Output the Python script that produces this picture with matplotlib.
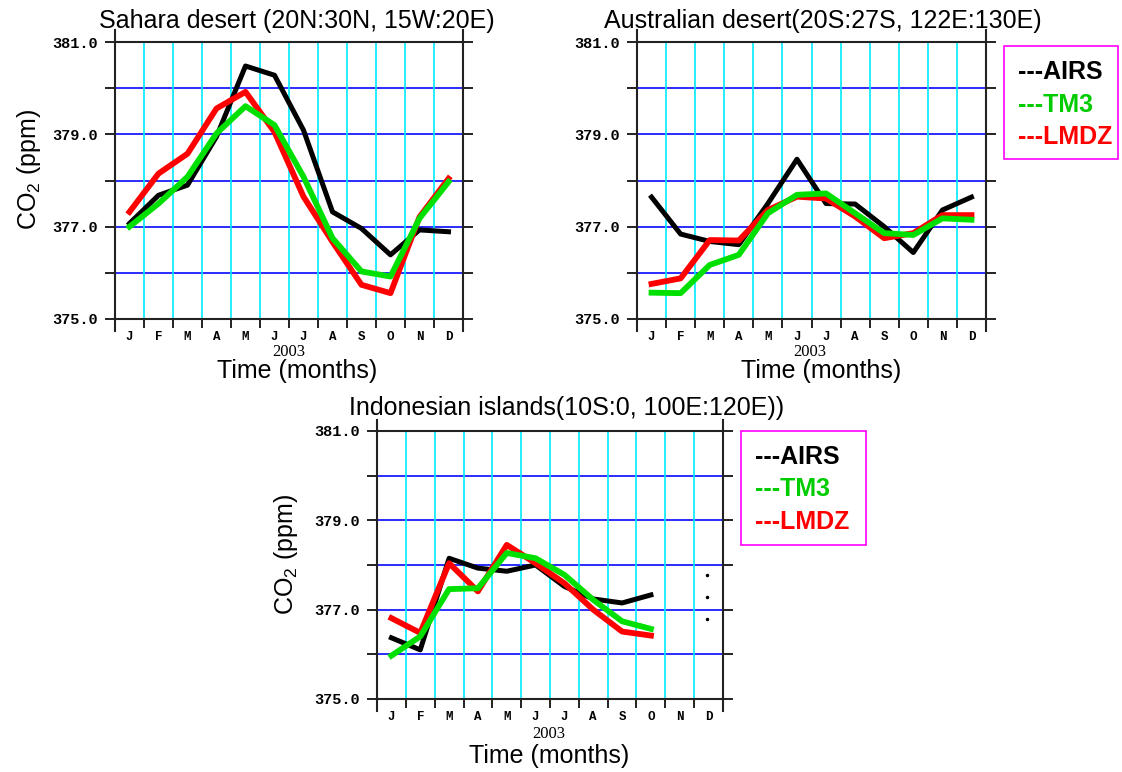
import matplotlib
matplotlib.use("Agg")
import matplotlib.pyplot as plt
import numpy as np
from matplotlib.patches import Rectangle

plt.rcParams['mathtext.fontset'] = 'custom'
plt.rcParams['mathtext.rm'] = 'Liberation Sans'

W, H = 1122, 772

months = ['J', 'F', 'M', 'A', 'M', 'J', 'J', 'A', 'S', 'O', 'N', 'D']
yticks = [375, 377, 379, 381]
ytick_labels = ['375.0', '377.0', '379.0', '381.0']
yminor = [376, 378, 380]

# monthly mean CO2 (ppm), 2003
sahara_airs = [377.07, 377.68, 377.90, 378.95, 380.48, 380.28, 379.09, 377.32, 376.96, 376.39, 376.93, 376.89]
sahara_tm3 = [377.00, 377.50, 378.08, 379.02, 379.61, 379.20, 378.08, 376.75, 376.03, 375.92, 377.18, 377.97]
sahara_lmdz = [377.32, 378.15, 378.58, 379.56, 379.92, 379.05, 377.65, 376.67, 375.74, 375.56, 377.21, 378.04]

aus_airs = [377.64, 376.84, 376.68, 376.61, 377.50, 378.46, 377.50, 377.49, 377.00, 376.44, 377.36, 377.64]
aus_tm3 = [375.57, 375.56, 376.17, 376.39, 377.29, 377.69, 377.72, 377.29, 376.86, 376.82, 377.18, 377.15]
aus_lmdz = [375.76, 375.88, 376.71, 376.70, 377.36, 377.65, 377.61, 377.22, 376.75, 376.86, 377.25, 377.25]

indo_airs = [376.37, 376.10, 378.15, 377.93, 377.86, 378.00, 377.52, 377.24, 377.15, 377.33]
indo_tm3 = [375.97, 376.40, 377.46, 377.48, 378.27, 378.15, 377.78, 377.22, 376.74, 376.57]
indo_lmdz = [376.81, 376.48, 378.04, 377.41, 378.45, 378.04, 377.59, 377.00, 376.51, 376.42]
indo_dec_dots = [377.78, 377.28, 376.79]

legend_names = ['---AIRS', '---TM3', '---LMDZ']
legend_colors = ['black', '#00cc00', '#ff0000']
line_colors = ['black', '#00e000', '#ff0000']


def fx(p):
    return p / W


def fy(p):
    return 1 - p / H


def panel(ax, airs, tm3, lmdz):
    ax.set_xlim(0, 12)
    ax.set_ylim(375, 381)
    ax.set_axisbelow(True)
    ax.set_xticks(np.arange(13))
    ax.set_xticklabels([])
    ax.set_xticks(np.arange(12) + 0.5, minor=True)
    ax.set_xticklabels(months, minor=True, fontfamily='Liberation Mono',
                       fontweight='bold', fontsize=9)
    ax.set_yticks(yticks)
    ax.set_yticklabels(ytick_labels, fontfamily='Liberation Mono',
                       fontweight='bold', fontsize=11)
    ax.set_yticks(yminor, minor=True)
    ax.tick_params(axis='y', which='both', direction='out', length=7, width=1.4,
                   left=True, right=True, pad=5, color='#222222')
    ax.tick_params(axis='x', which='major', direction='out', length=6.5, width=1.4,
                   color='#222222')
    ax.tick_params(axis='x', which='minor', length=0, pad=9)
    for v in range(376, 381):
        ax.axhline(v, color='#1a1aff', lw=1.3, zorder=0.5)
    for m in range(1, 12):
        ax.axvline(m, color='#00eaff', lw=1.2, zorder=0.5)
    for s in ax.spines.values():
        s.set_linewidth(1.5)
        s.set_color('#222222')
    ax.spines['left'].set_bounds(374.74, 381.25)
    ax.spines['right'].set_bounds(374.74, 381.25)

    x = np.arange(len(airs)) + 0.5
    ax.plot(x, airs, color=line_colors[0], lw=3.6)
    ax.plot(x, lmdz, color=line_colors[2], lw=4.2)
    ax.plot(x, tm3, color=line_colors[1], lw=4.2)


def legend_box(x0, y0, x1, y1):
    fig.patches.append(Rectangle((fx(x0), fy(y1)), fx(x1) - fx(x0), fy(y0) - fy(y1),
                                 transform=fig.transFigure, fill=False,
                                 edgecolor='#ff00ff', lw=1.2))
    for i, (name, c) in enumerate(zip(legend_names, legend_colors)):
        fig.text(fx(x0 + 14), fy(y0 + 33 + i * 32.5), name, color=c,
                 fontfamily='Liberation Sans', fontweight='bold', fontsize=18,
                 va='baseline', ha='left')


fig = plt.figure(figsize=(W / 100, H / 100), dpi=100)

ax1 = fig.add_axes([fx(115), fy(319), (463 - 115) / W, (319 - 42) / H])
ax2 = fig.add_axes([fx(637), fy(319), (986 - 637) / W, (319 - 42) / H])
ax3 = fig.add_axes([fx(377), fy(699), (723 - 377) / W, (699 - 431) / H])

panel(ax1, sahara_airs, sahara_tm3, sahara_lmdz)
panel(ax2, aus_airs, aus_tm3, aus_lmdz)
panel(ax3, indo_airs, indo_tm3, indo_lmdz)
ax3.plot([11.45] * len(indo_dec_dots), indo_dec_dots, 'o', color='black', ms=1.5)

sans = dict(fontfamily='Liberation Sans', fontsize=18)
fig.text(fx(297), fy(28), 'Sahara desert (20N:30N, 15W:20E)', ha='center', va='baseline', **sans)
fig.text(fx(823), fy(28), 'Australian desert(20S:27S, 122E:130E)', ha='center', va='baseline', **sans)
fig.text(fx(567), fy(415), 'Indonesian islands(10S:0, 100E:120E))', ha='center', va='baseline', **sans)

for cx, by in [(297, 378), (821, 378), (549, 763)]:
    fig.text(fx(cx), fy(by), 'Time (months)', ha='center', va='baseline', **sans)

for cx, cy in [(289, 352), (810, 352), (549, 734)]:
    fig.text(fx(cx), fy(cy), '2003', ha='center', va='center',
             fontfamily='Liberation Serif', fontsize=12)

for cx, cy in [(29, 170), (286, 555)]:
    fig.text(fx(cx), fy(cy), r'CO$_\mathregular{2}$ (ppm)', rotation=90,
             ha='center', va='center', **sans)

legend_box(1004, 46, 1118, 159)
legend_box(741, 431, 866, 545)

fig.savefig('out.png', dpi=100)
